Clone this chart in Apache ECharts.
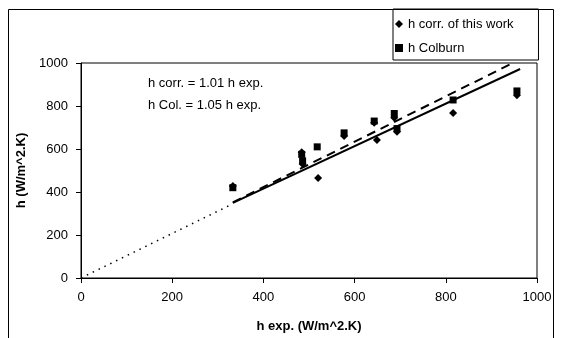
<!DOCTYPE html>
<html lang="en">
<head>
    <meta charset="UTF-8">
    <script src="https://cdn.jsdelivr.net/npm/echarts@6.0.0/dist/echarts.min.js"></script>
    <title>h corr. vs h exp.</title>
    <style>
        html, body { margin: 0; padding: 0; background: #fff; }
    </style>
</head>
<body>
    <div id="chart" style="width: 562px;height:338px;"></div>
    <script>
        var hExpCorr = [333, 484, 486, 520, 577, 643, 649, 687, 693, 816, 956];
        var hCorr    = [428, 585, 530, 465, 660, 722, 642, 745, 680, 767, 850];
        var hExpCol  = [333, 484, 486, 518, 577, 643, 687, 693, 816, 956];
        var hCol     = [420, 575, 545, 610, 675, 730, 765, 695, 828, 870];

        // trend lines (end points)
        var corrFitX = [333, 963];
        var corrFitY = [349, 972];
        var colFitX  = [333, 947];
        var colFitY  = [352, 1000];
        var dotX     = [0, 333];
        var dotY     = [0, 345];

        var axisTicks = [0, 200, 400, 600, 800, 1000];

        function pairs(xs, ys) {
            var out = [];
            for (var i = 0; i < xs.length; i++) {
                out.push([xs[i], ys[i]]);
            }
            return out;
        }

        var chart = echarts.init(document.getElementById('chart'));
        var font = 'Liberation Sans, Arial, sans-serif';

        var option = {
            animation: false,
            textStyle: { fontFamily: font },
            grid: {
                left: 81, right: 25, top: 63, bottom: 60,
                show: true, borderColor: '#000', borderWidth: 1
            },
            legend: {
                orient: 'vertical',
                left: 393, top: 9,
                padding: [8, 25, 5, 2],
                itemGap: 10,
                itemWidth: 8, itemHeight: 8,
                borderColor: '#000', borderWidth: 1,
                textStyle: { fontSize: 13, color: '#000', lineHeight: 14, fontFamily: font },
                data: [
                    { name: 'h corr. of this work', icon: 'diamond' },
                    { name: 'h Colburn', icon: 'rect' }
                ]
            },
            xAxis: {
                type: 'value',
                min: axisTicks[0], max: axisTicks[axisTicks.length - 1], interval: 200,
                name: 'h exp. (W/m^2.K)',
                nameLocation: 'middle', nameGap: 42,
                nameTextStyle: { fontSize: 13, fontWeight: 'bold', color: '#000', fontFamily: font },
                axisLine: { lineStyle: { color: '#000', width: 1 } },
                axisTick: { show: true, length: 5, lineStyle: { color: '#000' } },
                axisLabel: { fontSize: 13, color: '#000', margin: 13, formatter: function (v) { return String(v); } },
                splitLine: { show: false }
            },
            yAxis: {
                type: 'value',
                min: axisTicks[0], max: axisTicks[axisTicks.length - 1], interval: 200,
                name: 'h (W/m^2.K)',
                nameLocation: 'middle', nameGap: 46,
                nameTextStyle: { fontSize: 13, fontWeight: 'bold', color: '#000', fontFamily: font },
                axisLine: { show: true, lineStyle: { color: '#000', width: 1 } },
                axisTick: { show: true, length: 5, lineStyle: { color: '#000' } },
                axisLabel: { fontSize: 13, color: '#000', margin: 13, formatter: function (v) { return String(v); } },
                splitLine: { show: false }
            },
            graphic: [
                {
                    type: 'rect',
                    shape: { x: 8.5, y: 9.5, width: 545, height: 340 },
                    style: { fill: 'none', stroke: '#000', lineWidth: 1 },
                    silent: true
                },
                {
                    type: 'text', left: 148, top: 77,
                    style: { text: 'h corr. = 1.01 h exp.', fill: '#000', font: '13px ' + font }
                },
                {
                    type: 'text', left: 148, top: 99,
                    style: { text: 'h Col. = 1.05 h exp.', fill: '#000', font: '13px ' + font }
                }
            ],
            series: [
                {
                    name: 'fit dotted', type: 'line', data: pairs(dotX, dotY),
                    symbol: 'none', lineStyle: { color: '#000', width: 1.5, type: [1.5, 5] }, z: 1
                },
                {
                    name: 'fit corr', type: 'line', data: pairs(corrFitX, corrFitY),
                    symbol: 'none', lineStyle: { color: '#000', width: 2 }, z: 1
                },
                {
                    name: 'fit col', type: 'line', data: pairs(colFitX, colFitY),
                    symbol: 'none', lineStyle: { color: '#000', width: 2, type: [9, 6] }, z: 1
                },
                {
                    name: 'h corr. of this work', type: 'scatter', data: pairs(hExpCorr, hCorr),
                    symbol: 'diamond', symbolSize: 8, itemStyle: { color: '#000', opacity: 1 }, z: 3
                },
                {
                    name: 'h Colburn', type: 'scatter', data: pairs(hExpCol, hCol),
                    symbol: 'rect', symbolSize: 7, itemStyle: { color: '#000', opacity: 1 }, z: 3
                }
            ]
        };

        chart.setOption(option);
    </script>
</body>
</html>
